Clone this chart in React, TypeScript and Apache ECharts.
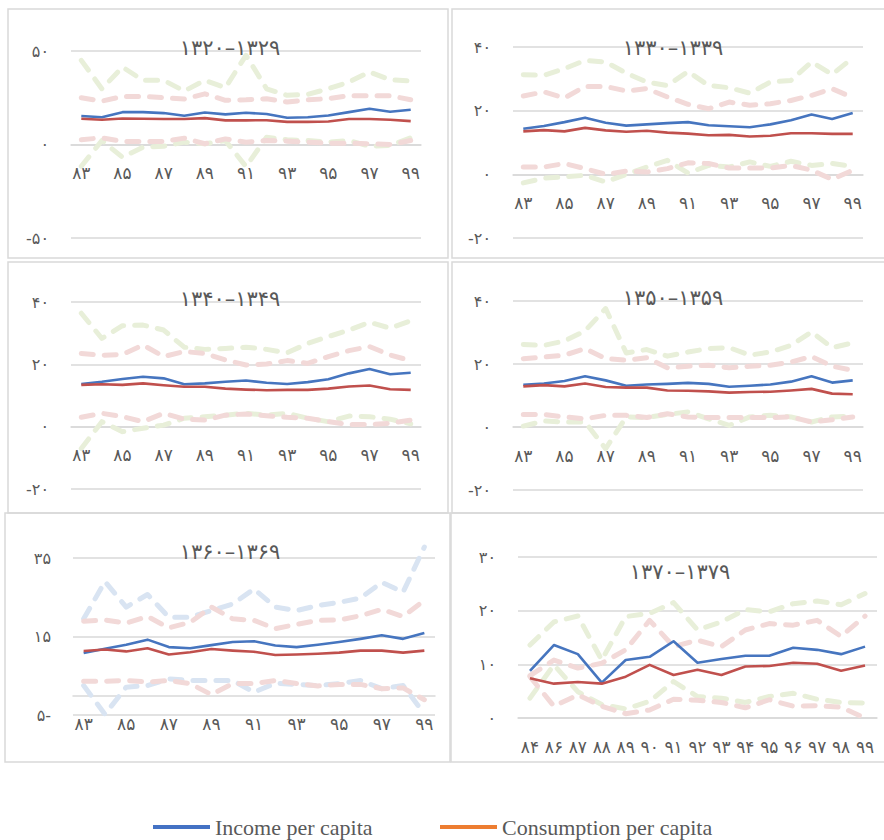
import React, { useEffect, useRef } from "react";
import * as echarts from "echarts";

// ---------- data ----------
const yearsA = ["83","84","85","86","87","88","89","90","91","92","93","94","95","96","97","98","99"];
const yearsB = ["84","86","87","88","89","90","91","92","93","94","95","96","97","98","99"];

const periodTitles = ["۱۳۲۰–۱۳۲۹", "۱۳۳۰–۱۳۳۹", "۱۳۴۰–۱۳۴۹", "۱۳۵۰–۱۳۵۹", "۱۳۶۰–۱۳۶۹", "۱۳۷۰–۱۳۷۹"];
const legendNames = ["Income per capita", "Consumption per capita"];

// 1320-1329
const p1Income = [15.2,14.6,17.3,17.3,16.8,15.4,17.1,16.1,17.0,16.3,14.3,14.6,15.5,17.3,19.1,17.5,18.6];
const p1Cons = [13.75,13.2,13.9,13.75,13.6,13.6,14.1,12.9,12.9,13.0,12.1,12.1,12.3,13.6,13.6,13.2,12.5];
const p1IncUp = [45,29.8,41.4,34.3,34.3,28.6,34.3,30.4,47.7,29.8,26.3,26.8,29.8,33.4,38.8,34.6,33.9];
const p1IncLo = [-11.6,2.1,-6.8,-1.4,-0.9,1.25,0.4,2.1,-11.8,3.9,2.5,2.1,1.25,2.1,-0.9,-0.5,3.6];
const p1ConsUp = [25,23.2,25.7,25.7,25,24.3,27.1,23.6,23.9,24.5,22.7,23.9,24.5,26.1,26.1,26.1,23.9];
const p1ConsLo = [2.5,3.6,1.6,1.6,1.6,3.4,0.4,3.0,1.25,2.1,1.8,1.25,0.7,0.7,0.4,0,2.1];

// 1330-1339
const p2Income = [14.3,15.2,16.4,17.8,16.2,15.3,15.7,16.1,16.4,15.4,15.1,14.8,15.7,17.0,18.8,17.4,19.3];
const p2Cons = [13.5,13.9,13.5,14.6,13.8,13.4,13.7,13.1,12.8,12.3,12.4,11.9,12.1,12.9,12.9,12.7,12.7];
const p2IncUp = [31.3,31.1,33.2,35.8,35.3,31.8,29.0,27.9,32.3,27.9,27.2,25.5,29.0,29.5,35.3,31.4,36.6];
const p2IncLo = [-2.7,-1.2,-0.8,-0.3,-2.4,0,2.3,4.4,0.4,2.8,2.3,3.9,2.5,4.1,2.8,3.4,2.5];
const p2ConsUp = [24.6,25.9,24.0,27.6,27.6,26.2,26.9,24.3,22.0,20.6,22.7,21.7,22.2,23.2,24.8,26.9,24.1];
const p2ConsLo = [2.3,2.3,3.4,1.8,0,1.0,0.7,1.8,3.6,3.4,2.0,2.0,2.0,2.8,1.3,-1.6,1.3];

// 1340-1349
const p3Income = [13.7,14.4,15.3,16.0,15.5,13.6,13.9,14.4,14.8,14.1,13.7,14.3,15.2,17.1,18.5,16.8,17.3];
const p3Cons = [13.4,13.6,13.4,13.9,13.3,12.8,12.8,12.2,11.9,11.7,11.8,11.8,12.2,12.9,13.2,12.0,11.8];
const p3IncUp = [36.4,28.3,32.4,32.6,31.0,25.5,24.8,25.1,25.5,24.8,23.7,26.7,28.9,31.0,33.5,31.6,34.0];
const p3IncLo = [-7.0,1.6,-1.6,-0.5,0.5,2.7,3.2,3.7,4.3,3.7,4.3,2.7,1.6,3.4,3.2,2.4,0.9];
const p3ConsUp = [23.5,22.9,23.2,26.2,22.5,24.1,23.5,21.4,19.8,20.1,21.2,20.3,22.5,24.4,25.7,23.0,21.2];
const p3ConsLo = [3.0,4.3,3.2,1.6,4.3,2.4,2.1,3.7,4.1,3.5,3.0,2.7,1.6,0.7,0.7,1.1,2.1];

// 1350-1359
const p4Income = [13.4,13.8,14.6,16.1,14.8,13.1,13.5,13.7,14.0,13.7,12.8,13.1,13.5,14.4,16.1,14.1,14.8];
const p4Cons = [12.9,13.3,12.9,13.8,12.7,12.5,12.5,11.6,11.5,11.3,10.9,11.1,11.2,11.6,12.1,10.6,10.4];
const p4IncUp = [26.2,25.9,27.3,30.5,37.6,23.5,24.6,22.5,23.8,24.9,25.2,22.8,23.8,25.9,30.2,25.2,26.7];
const p4IncLo = [0.3,1.9,1.6,1.6,-6.9,3.2,3.0,4.0,4.8,2.6,0.5,3.2,3.7,3.2,1.6,3.2,3.4];
const p4ConsUp = [21.7,22.2,22.8,24.9,21.7,21.2,22.0,18.8,19.3,19.6,18.8,19.3,19.6,20.6,22.4,19.3,18.0];
const p4ConsLo = [4.0,4.0,3.2,2.6,3.7,3.7,3.0,4.2,3.2,3.0,3.0,3.0,3.0,3.2,1.6,2.3,3.2];

// 1360-1369
const p5Income = [10.8,11.9,12.9,14.2,12.3,12.0,12.8,13.6,13.8,12.7,12.3,12.9,13.6,14.4,15.3,14.4,15.9];
const p5Cons = [11.3,11.7,11.2,12.0,10.4,11.0,11.8,11.4,11.1,10.3,10.4,10.6,10.9,11.4,11.4,10.9,11.4];
const p5IncUp = [19.5,29.0,22.5,25.7,19.9,19.9,21.6,23.3,27.1,22.5,21.6,22.9,23.7,24.8,28.8,26.3,37.8];
const p5IncLo = [2.5,-4.8,2.1,2.5,4.2,3.8,3.8,3.8,0.8,3.1,2.8,2.5,3.0,3.8,1.7,2.5,-4.7];
const p5ConsUp = [18.9,19.2,18.4,20.1,17.2,18.6,22.5,19.5,19.1,17.0,18.1,19.1,19.2,20.3,21.9,20.1,24.2];
const p5ConsLo = [3.6,3.6,3.8,3.4,3.8,3.0,0.2,3.0,3.0,3.8,3.0,2.4,2.8,2.8,1.7,1.9,-1.1];

// 1370-1379
const p6Income = [8.8,13.6,11.9,6.6,10.8,11.4,14.3,10.3,11.0,11.6,11.6,13.1,12.7,11.9,13.3];
const p6Cons = [7.4,6.4,6.7,6.4,7.7,9.9,8.0,9.0,8.0,9.6,9.7,10.3,10.1,8.8,9.8];
const p6IncUp = [13.6,17.9,19.0,10.8,18.9,19.5,21.5,16.4,17.9,20.2,19.8,21.3,21.8,21.1,23.2];
const p6IncLo = [3.7,9.9,4.9,2.5,1.7,3.1,6.8,4.0,3.7,2.9,4.0,4.6,3.5,2.9,2.8];
const p6ConsUp = [7.9,10.8,9.3,10.2,12.7,18.2,13.3,14.5,13.3,16.4,17.6,17.3,18.2,15.2,19.0];
const p6ConsLo = [7.7,2.2,4.3,2.2,0.8,1.5,3.5,3.3,2.9,1.9,3.4,2.2,2.3,2.0,0];

// ---------- styling / layout ----------
const BLUE = "#4675BF";
const RED = "#C0504D";
const GREEN_BAND = "#E8EFD9";
const PINK_BAND = "#F2D9D8";
const BLUE_BAND = "#D9E4F2";
const GRID_COLOR = "#D9D9D9";
const TEXT_COLOR = "#595959";
const NUM_FONT = "DejaVu Sans";

const toFa = (s: string) => s.replace(/[0-9]/g, (d) => "۰۱۲۳۴۵۶۷۸۹"[+d]);

const panels = [
  { cats: yearsA, inc: p1Income, cons: p1Cons, incUp: p1IncUp, incLo: p1IncLo, consUp: p1ConsUp, consLo: p1ConsLo,
    grid: { left: 71, top: 51, width: 350, height: 187 }, y: { min: -50, max: 50, interval: 50 },
    title: [230, 48], band: GREEN_BAND, box: [8, 9, 440, 249], labelEvery: 1, minusRight: false },
  { cats: yearsA, inc: p2Income, cons: p2Cons, incUp: p2IncUp, incLo: p2IncLo, consUp: p2ConsUp, consLo: p2ConsLo,
    grid: { left: 513, top: 47, width: 350, height: 191 }, y: { min: -20, max: 40, interval: 20 },
    title: [673, 48], band: GREEN_BAND, box: [452, 9, 440, 249], labelEvery: 1, minusRight: false },
  { cats: yearsA, inc: p3Income, cons: p3Cons, incUp: p3IncUp, incLo: p3IncLo, consUp: p3ConsUp, consLo: p3ConsLo,
    grid: { left: 71, top: 302, width: 350, height: 187 }, y: { min: -20, max: 40, interval: 20 },
    title: [230, 299], band: GREEN_BAND, box: [8, 262, 440, 251], labelEvery: 1, minusRight: false },
  { cats: yearsA, inc: p4Income, cons: p4Cons, incUp: p4IncUp, incLo: p4IncLo, consUp: p4ConsUp, consLo: p4ConsLo,
    grid: { left: 513, top: 301, width: 350, height: 189 }, y: { min: -20, max: 40, interval: 20 },
    title: [673, 298], band: GREEN_BAND, box: [452, 262, 440, 251], labelEvery: 1, minusRight: false },
  { cats: yearsA, inc: p5Income, cons: p5Cons, incUp: p5IncUp, incLo: p5IncLo, consUp: p5ConsUp, consLo: p5ConsLo,
    grid: { left: 73, top: 558, width: 362, height: 157 }, y: { min: -5, max: 35, interval: 20 },
    title: [230, 552], band: BLUE_BAND, box: [5, 513, 445, 249], labelEvery: 1, minusRight: true },
  { cats: yearsB, inc: p6Income, cons: p6Cons, incUp: p6IncUp, incLo: p6IncLo, consUp: p6ConsUp, consLo: p6ConsLo,
    grid: { left: 518, top: 557, width: 359, height: 161 }, y: { min: 0, max: 30, interval: 10 },
    title: [680, 572], band: GREEN_BAND, box: [451, 513, 440, 249], labelEvery: 0, minusRight: false },
];

function buildOption() {
  const grid: any[] = [];
  const xAxis: any[] = [];
  const yAxis: any[] = [];
  const series: any[] = [];
  const graphic: any[] = [];

  panels.forEach((p, i) => {
    grid.push({ ...p.grid, containLabel: false });
    // the horizontal axis crosses the value axis at zero
    const zeroOffset = -p.grid.height * (0 - p.y.min) / (p.y.max - p.y.min);
    xAxis.push({
      type: "category",
      gridIndex: i,
      data: p.cats,
      boundaryGap: true,
      position: "bottom",
      offset: zeroOffset,
      axisLine: { show: true, onZero: false, lineStyle: { color: GRID_COLOR, width: 1.5 } },
      axisTick: { show: false },
      axisLabel: {
        interval: p.labelEvery,
        margin: 20,
        color: TEXT_COLOR,
        fontFamily: NUM_FONT,
        fontSize: 17,
        formatter: (v: string) => toFa(v),
      },
      splitLine: { show: false },
    });
    yAxis.push({
      type: "value",
      gridIndex: i,
      min: p.y.min,
      max: p.y.max,
      interval: p.y.interval,
      axisLine: { show: false },
      axisTick: { show: false },
      axisLabel: {
        margin: 22,
        color: TEXT_COLOR,
        fontFamily: NUM_FONT,
        fontSize: 16,
        formatter: (v: number) => {
          if (v < 0) return p.minusRight ? toFa(String(Math.abs(v))) + "-" : "-" + toFa(String(Math.abs(v)));
          return toFa(String(v));
        },
      },
      splitLine: { show: true, lineStyle: { color: GRID_COLOR, width: 1.5 } },
    });

    const band = (name: string, data: number[], color: string) => ({
      name,
      type: "line",
      xAxisIndex: i,
      yAxisIndex: i,
      data,
      symbol: "none",
      showSymbol: false,
      clip: false,
      silent: true,
      z: 2,
      lineStyle: { color, width: 5, type: [12, 11], cap: "round", join: "round" },
    });
    const solid = (name: string, data: number[], color: string, z: number) => ({
      name,
      type: "line",
      xAxisIndex: i,
      yAxisIndex: i,
      data,
      symbol: "none",
      showSymbol: false,
      clip: false,
      silent: true,
      z,
      lineStyle: { color, width: 2.6, join: "round" },
    });
    series.push(band("incomeUpper" + i, p.incUp, p.band));
    series.push(band("incomeLower" + i, p.incLo, p.band));
    series.push(band("consUpper" + i, p.consUp, PINK_BAND));
    series.push(band("consLower" + i, p.consLo, PINK_BAND));
    series.push(solid("income" + i, p.inc, BLUE, 3));
    series.push(solid("consumption" + i, p.cons, RED, 4));

    graphic.push({
      type: "rect",
      z: -10,
      silent: true,
      shape: { x: p.box[0], y: p.box[1], width: p.box[2], height: p.box[3] },
      style: { fill: "none", stroke: GRID_COLOR, lineWidth: 1.5 },
    });
    graphic.push({
      type: "text",
      z: 10,
      silent: true,
      x: p.title[0],
      y: p.title[1],
      style: {
        text: periodTitles[i],
        fill: TEXT_COLOR,
        fontFamily: NUM_FONT,
        fontSize: 21,
        align: "center",
        verticalAlign: "middle",
      },
    });
  });

  // legend entries
  series.push({ name: legendNames[0], type: "line", xAxisIndex: 0, yAxisIndex: 0, data: [], color: "#4472C4", lineStyle: { color: "#4472C4" } });
  series.push({ name: legendNames[1], type: "line", xAxisIndex: 0, yAxisIndex: 0, data: [], color: "#ED7D31", lineStyle: { color: "#ED7D31" } });

  const legendBase = {
    top: 816,
    padding: 0,
    itemWidth: 57,
    itemHeight: 4,
    itemGap: 4,
    selectedMode: false,
    textStyle: { fontFamily: "Liberation Serif", fontSize: 22, color: TEXT_COLOR },
  };

  return {
    animation: false,
    backgroundColor: "#ffffff",
    grid,
    xAxis,
    yAxis,
    series,
    graphic,
    legend: [
      { ...legendBase, left: 153, data: [{ name: legendNames[0], icon: "rect" }] },
      { ...legendBase, left: 440, data: [{ name: legendNames[1], icon: "rect" }] },
    ],
  };
}

export default function App() {
  const ref = useRef<HTMLDivElement>(null);
  useEffect(() => {
    if (!ref.current) return;
    const chart = echarts.init(ref.current, undefined, { renderer: "svg" });
    chart.setOption(buildOption() as any);
    return () => chart.dispose();
  }, []);
  return (
    <div
      ref={ref}
      style={{ position: "absolute", left: 0, top: 0, width: 884, height: 840, background: "#fff" }}
    />
  );
}
